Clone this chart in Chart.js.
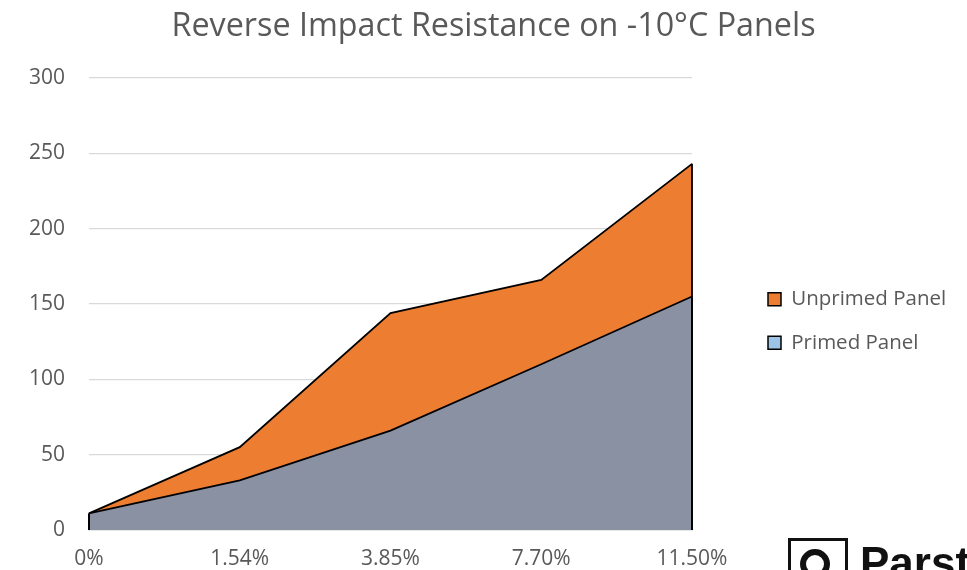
<!DOCTYPE html>
<html>
<head>
<meta charset="utf-8">
<script src="https://cdn.jsdelivr.net/npm/chart.js@4/dist/chart.umd.min.js"></script>
<style>
  html, body { margin: 0; padding: 0; background: #fff; overflow: hidden; }
  #wrap { position: relative; width: 967px; height: 570px; }
  #logo { position: absolute; left: 788px; top: 538px; width: 179px; height: 32px; overflow: hidden; }
  #logo .mark { position: absolute; left: 0; top: 0; width: 54px; height: 40px; border: 3px solid #111; background: #fff; }
  #logo .mark .ring { position: absolute; left: 9px; top: 8px; width: 30px; height: 30px; border-radius: 50%; border: 6px solid #111; box-sizing: border-box; }
  #logo .txt { position: absolute; left: 72px; top: 3px; font: bold 44px "Liberation Sans", Arial, sans-serif; color: #111; line-height: 44px; }
</style>
</head>
<body>
<div id="wrap">
  <canvas id="c" width="967" height="570"></canvas>
  <div id="logo"><div class="mark"><div class="ring"></div></div><div class="txt">Parst</div></div>
</div>
<script>
const titleText = "Reverse Impact Resistance on -10°C Panels";
const categories = ["0%", "1.54%", "3.85%", "7.70%", "11.50%"];
const seriesNames = ["Unprimed Panel", "Primed Panel"];
const unprimedValues = [11, 55, 144, 166, 243];
const primedValues = [11, 33, 66, 110, 155];
const yTicks = [0, 50, 100, 150, 200, 250, 300];

const FONT = "'Open Sans', sans-serif";
const TXT = "#595959";
const fillColors = ["#ED7D31", "#8A91A3"];
const legendColors = ["#ED7D31", "#9DC3E6"];

const edgePlugin = {
  id: "edges",
  afterDatasetsDraw(chart) {
    const ctx = chart.ctx;
    const y0 = chart.scales.y.getPixelForValue(0);
    ctx.save();
    ctx.strokeStyle = "#000";
    ctx.lineWidth = 1.8;
    chart.data.datasets.forEach((ds, i) => {
      const meta = chart.getDatasetMeta(i);
      const pts = [meta.data[0], meta.data[meta.data.length - 1]];
      pts.forEach(p => {
        ctx.beginPath();
        ctx.moveTo(p.x, p.y);
        ctx.lineTo(p.x, y0);
        ctx.stroke();
      });
    });
    ctx.restore();
  }
};

const legendShift = {
  id: "legendShift",
  afterLayout(chart) {
    const lg = chart.legend;
    if (lg) {
      const dx = 768 - (lg.left + lg.options.labels.padding);
      lg.left += dx; lg.right += dx;
      const dy = 36;
      lg.top += dy; lg.bottom += dy;
    }
    const t = chart.titleBlock;
    if (t) { t.left -= 4.5; t.right -= 4.5; }
  }
};

new Chart(document.getElementById("c"), {
  type: "line",
  data: {
    labels: categories,
    datasets: [
      {
        label: seriesNames[0],
        data: unprimedValues,
        backgroundColor: fillColors[0],
        borderColor: "#000",
        borderWidth: 1.8,
        fill: "origin",
        tension: 0,
        pointRadius: 0,
        order: 1
      },
      {
        label: seriesNames[1],
        data: primedValues,
        backgroundColor: fillColors[1],
        borderColor: "#000",
        borderWidth: 1.8,
        fill: "origin",
        tension: 0,
        pointRadius: 0,
        order: 0
      }
    ]
  },
  options: {
    responsive: false,
    animation: false,
    layout: { padding: { left: 29, right: 0, top: 0, bottom: 0 } },
    plugins: {
      title: {
        display: true,
        text: titleText,
        color: TXT,
        font: { family: FONT, size: 32.3, weight: "normal", lineHeight: 1.2 },
        padding: { top: 7.1, bottom: 32.1 }
      },
      legend: {
        position: "right",
        labels: {
          color: TXT,
          font: { family: FONT, size: 20.5 },
          boxWidth: 13,
          boxHeight: 13,
          padding: 23,
          generateLabels(chart) {
            return seriesNames.map((n, i) => ({
              text: n,
              fillStyle: legendColors[i],
              strokeStyle: "#000",
              lineWidth: 1.5,
              fontColor: TXT,
              hidden: false,
              datasetIndex: i
            }));
          }
        }
      },
      tooltip: { enabled: false }
    },
    scales: {
      x: {
        offset: false,
        grid: { display: false, drawTicks: false },
        border: { display: true, color: "#D9D9D9", width: 1.5 },
        ticks: { color: TXT, font: { family: FONT, size: 21, lineHeight: 1.0 }, padding: 19, maxRotation: 0 },
        afterFit(s) { s.paddingRight = 275; s.height = 40; }
      },
      y: {
        min: 0,
        max: 300,
        afterBuildTicks(s) { s.ticks = yTicks.map(v => ({ value: v })); },
        grid: { color: "#D9D9D9", lineWidth: 1.2, drawTicks: false },
        border: { display: false },
        ticks: { color: TXT, font: { family: FONT, size: 21 }, padding: 24 },
        afterFit(s) { s.width = 60; }
      }
    }
  },
  plugins: [edgePlugin, legendShift]
});
</script>
</body>
</html>
